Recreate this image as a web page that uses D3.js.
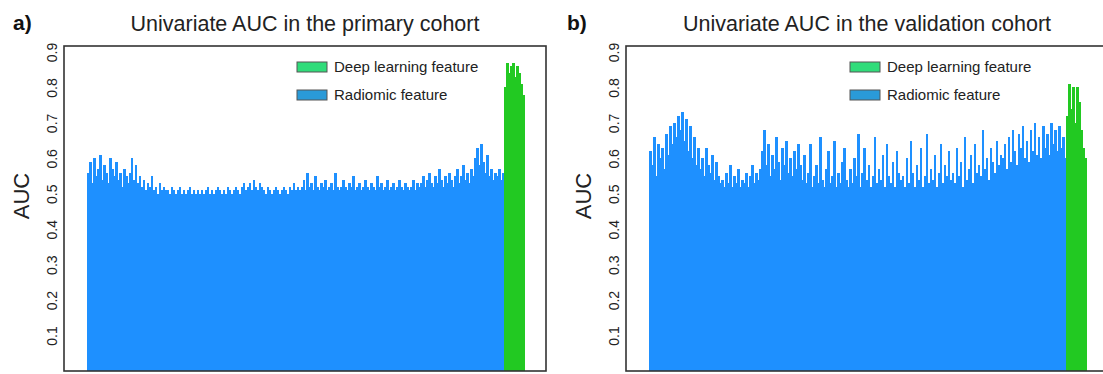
<!DOCTYPE html>
<html>
<head>
<meta charset="utf-8">
<script src="https://cdn.jsdelivr.net/npm/d3@7"></script>
<style>
  body { margin: 0; background: #fff; }
  svg { display: block; font-family: "Liberation Sans", Arial, sans-serif; }
</style>
</head>
<body>
<div id="chart"></div>
<script>
// tick labels / texts
const yTicks = [0.1, 0.2, 0.3, 0.4, 0.5, 0.6, 0.7, 0.8, 0.9];
const legendLabels = ["Deep learning feature", "Radiomic feature"];
const panelTags = ["a)", "b)"];
const panelTitles = ["Univariate AUC in the primary cohort", "Univariate AUC in the validation cohort"];

// AUC per feature, primary cohort
const primaryRadiomic = [
  0.56,0.59,0.53,0.60,0.55,0.57,0.61,0.54,0.58,0.56,
  0.53,0.60,0.57,0.55,0.59,0.54,0.56,0.52,0.57,0.55,
  0.53,0.56,0.60,0.54,0.58,0.53,0.55,
  0.52,0.54,0.51,0.53,0.52,0.55,0.51,0.52,0.50,0.53,0.51,0.52,0.51,
  0.51,0.50,0.52,0.51,0.50,0.51,0.52,0.50,0.51,0.50,0.51,0.52,0.50,0.51,0.50,0.51,0.50,
  0.51,0.50,0.51,0.52,0.50,0.51,0.50,0.51,0.52,0.51,
  0.50,0.51,0.50,0.52,0.51,0.50,0.51,0.52,0.51,0.50,
  0.52,0.53,0.51,0.52,0.53,0.51,0.54,0.52,0.51,0.53,
  0.52,0.51,0.50,0.52,0.51,0.50,0.51,0.52,0.51,0.50,
  0.51,0.52,0.51,0.50,0.52,0.51,0.53,0.51,0.52,0.51,
  0.52,0.54,0.51,0.56,0.52,0.53,0.51,0.55,0.52,0.51,
  0.53,0.52,0.54,0.51,0.52,0.53,0.51,0.56,0.52,0.51,
  0.52,0.54,0.52,0.51,0.53,0.52,0.55,0.51,0.52,0.53,
  0.51,0.52,0.54,0.52,0.51,0.53,0.52,0.51,0.55,0.52,
  0.53,0.51,0.52,0.54,0.51,0.52,0.53,0.51,0.52,0.54,
  0.52,0.51,0.53,0.52,0.51,0.52,0.54,0.51,0.53,0.52,
  0.53,0.55,0.52,0.54,0.56,0.53,0.52,0.55,0.53,0.57,
  0.54,0.52,0.55,0.53,0.56,0.54,0.52,0.55,0.57,0.53,
  0.55,0.58,0.54,0.56,0.53,0.57,0.55,0.60,0.63,0.58,
  0.64,0.59,0.56,0.61,0.55,0.57,0.54,0.56,0.55,0.57,
  0.54,0.56
];
const primaryDeep = [0.80,0.87,0.84,0.86,0.87,0.83,0.86,0.84,0.81,0.78];

// AUC per feature, validation cohort
const validationRadiomic = [
  0.62,0.58,0.66,0.55,0.64,0.60,
  0.63,0.57,0.67,0.61,0.69,0.64,0.70,0.66,0.72,0.68,
  0.73,0.65,0.71,0.62,0.69,0.60,0.66,0.58,0.63,0.57,
  0.60,0.55,0.63,0.58,0.56,0.61,0.54,0.59,0.55,0.53,
  0.54,0.52,0.56,0.53,0.58,0.52,0.55,0.53,0.57,0.52,
  0.54,0.53,0.56,0.52,0.55,0.58,0.53,0.56,0.54,0.57,
  0.62,0.68,0.58,0.64,0.55,0.61,0.57,0.66,0.59,0.54,
  0.63,0.58,0.65,0.56,0.60,0.55,0.62,0.57,0.64,0.58,
  0.54,0.61,0.53,0.56,0.64,0.52,0.55,0.58,0.53,0.66,0.54,0.52,0.57,
  0.62,0.53,0.55,0.65,0.52,0.56,0.53,0.59,0.63,0.54,0.52,0.57,
  0.53,0.60,0.55,0.67,0.52,0.56,0.63,0.54,0.58,0.52,0.55,0.66,0.53,
  0.57,0.54,0.61,0.52,0.64,0.55,0.53,0.59,0.52,0.62,0.56,0.54,
  0.55,0.52,0.60,0.53,0.65,0.56,0.52,0.58,0.54,0.63,0.52,0.55,0.67,
  0.53,0.57,0.54,0.61,0.52,0.56,0.64,0.53,0.58,0.55,0.62,0.54,
  0.56,0.53,0.63,0.55,0.59,0.52,0.66,0.54,0.57,0.61,0.53,0.64,0.56,
  0.58,0.55,0.68,0.57,0.60,0.54,0.63,0.59,0.56,0.65,0.58,0.61,
  0.60,0.64,0.57,0.66,0.59,0.68,0.62,0.58,0.67,0.63,0.69,0.60,0.65,0.59,0.68,0.62,
  0.70,0.61,0.66,0.60,0.69,0.63,0.67,0.61,0.70,0.64,0.68,0.62,0.69,0.63,0.66,0.60
];
const validationDeep = [0.72,0.81,0.74,0.80,0.70,0.80,0.76,0.68,0.63,0.60];

const W = 1103, H = 374;
const boxW = 482, plotTop = 46, plotBottom = 371;
const barBlue = "#1e90ff", barGreen = "#22c922";
const legBlue = "#2a9ad8", legGreen = "#30dc7a";

const svg = d3.select("#chart").append("svg")
  .attr("width", W)
  .attr("height", H);

function drawPanel(cfg) {
  const g = svg.append("g").attr("transform", `translate(${cfg.left},0)`);

  const bars = cfg.radiomic.map((v, i) => ({key: "r" + i, v: v, deep: false}))
    .concat(cfg.deep.map((v, i) => ({key: "d" + i, v: v, deep: true})));

  const x = d3.scaleBand().domain(bars.map(d => d.key)).range([23, 460]);
  const y = d3.scaleLinear().domain([0, 0.917]).range([plotBottom, plotTop]);

  g.append("g")
    .attr("shape-rendering", "crispEdges")
    .selectAll("rect")
    .data(bars)
    .join("rect")
    .attr("x", d => x(d.key))
    .attr("width", x.bandwidth() + 0.6)
    .attr("y", d => y(d.v))
    .attr("height", d => y(0) - y(d.v))
    .attr("fill", d => d.deep ? barGreen : barBlue);

  // y axis: labels only, parallel to axis
  const yAxis = g.append("g")
    .call(d3.axisLeft(y).tickValues(yTicks).tickSize(0).tickFormat(d3.format(".1f")));
  yAxis.select(".domain").remove();
  yAxis.selectAll("text")
    .attr("x", null)
    .attr("dy", null)
    .attr("fill", "#222")
    .attr("text-anchor", "middle")
    .style("font-family", '"Liberation Sans", Arial, sans-serif')
    .style("font-size", "14px")
    .attr("transform", "translate(-7,0) rotate(-90)");

  // frame
  g.append("rect")
    .attr("x", 0).attr("y", plotTop)
    .attr("width", boxW).attr("height", plotBottom - plotTop)
    .attr("fill", "none")
    .attr("stroke", "#333")
    .attr("stroke-width", 1.6);

  g.append("text")
    .attr("transform", `translate(-35,196) rotate(-90)`)
    .attr("text-anchor", "middle")
    .attr("font-size", 22)
    .attr("fill", "#222")
    .text("AUC");

  g.append("text")
    .attr("x", boxW / 2).attr("y", 31)
    .attr("text-anchor", "middle")
    .attr("font-size", 21.5)
    .attr("fill", "#222")
    .text(cfg.title);

  g.append("text")
    .attr("x", cfg.tagX).attr("y", 30)
    .attr("font-size", 21)
    .attr("font-weight", "bold")
    .attr("fill", "#111")
    .text(cfg.tag);

  // legend
  const leg = g.append("g").attr("transform", `translate(${cfg.legendX},0)`);
  const legColors = [legGreen, legBlue];
  legendLabels.forEach((lab, i) => {
    leg.append("rect")
      .attr("x", 0).attr("y", 62 + i * 28)
      .attr("width", 30).attr("height", 10)
      .attr("fill", legColors[i])
      .attr("stroke", "#555")
      .attr("stroke-width", 1);
    leg.append("text")
      .attr("x", 37).attr("y", 72 + i * 28)
      .attr("font-size", 15)
      .attr("fill", "#222")
      .text(lab);
  });
}

drawPanel({left: 64, tag: panelTags[0], tagX: -51, title: panelTitles[0], legendX: 233,
  radiomic: primaryRadiomic, deep: primaryDeep});
drawPanel({left: 626, tag: panelTags[1], tagX: -59, title: panelTitles[1], legendX: 224,
  radiomic: validationRadiomic, deep: validationDeep});
</script>
</body>
</html>
